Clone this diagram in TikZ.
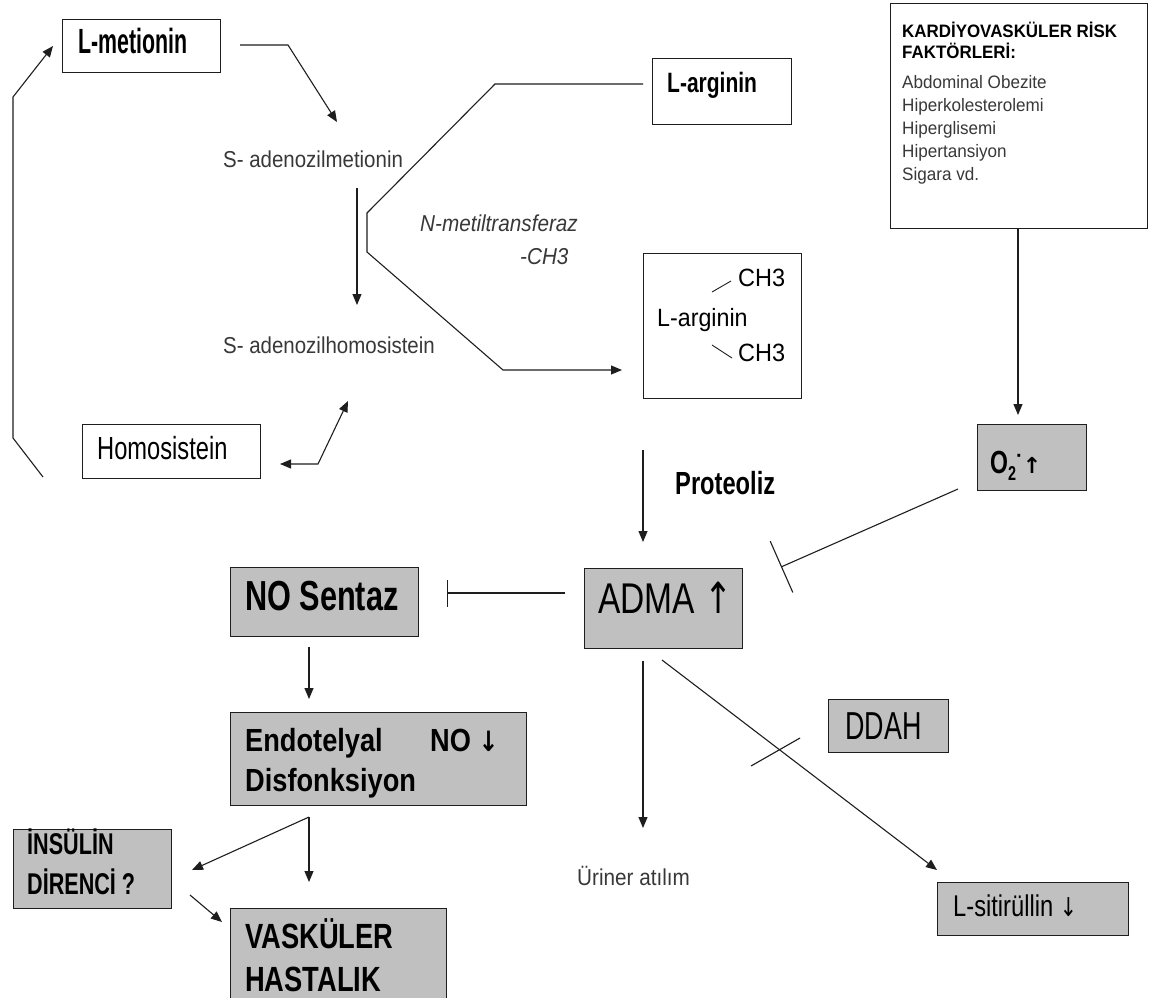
\documentclass[tikz,border=0pt]{standalone}
\usepackage{fontspec}
\usepackage{graphicx}
\setmainfont{Liberation Sans}
\newfontfamily\arrowfont{DejaVu Sans}
\usetikzlibrary{arrows.meta,calc}
\definecolor{boxgray}{RGB}{192,192,192}
\definecolor{inkline}{RGB}{30,30,30}
\newcommand{\fs}[1]{\fontsize{#1}{#1}\selectfont}
\newcommand{\sq}[2]{\scalebox{#1}[1]{#2}}

\begin{document}
\begin{tikzpicture}[x=1pt,y=-1pt,
  conn/.style={draw=inkline, line width=1.1pt},
  arr/.style={conn, -{Triangle[length=11pt,width=9pt]}},
  biarr/.style={conn, {Triangle[length=11pt,width=9pt]}-{Triangle[length=11pt,width=9pt]}},
  inh/.style={conn, -{Bar[width=#1]}},
  bx/.style={draw=inkline, line width=1pt, inner sep=0pt, anchor=north west},
  gbx/.style={bx, fill=boxgray},
  lbl/.style={inner sep=0pt, anchor=base west, text=black},
  thin/.style={lbl, text=black!78}]

\useasboundingbox (0,0) rectangle (1149,997);
\fill[white] (0,0) rectangle (1149,997);

% ---------- boxes ----------
\node[bx,  minimum width=158, minimum height=53]  (lmet) at (62,19)   {};
\node[bx,  minimum width=139, minimum height=66]  (larg) at (652,58)  {};
\node[bx,  minimum width=158, minimum height=145] (dmarg) at (643,253) {};
\node[bx,  minimum width=178, minimum height=54]  (homo) at (82,424)  {};
\node[bx,  minimum width=257, minimum height=225] (risk) at (890,3)   {};
\node[gbx, minimum width=109, minimum height=66]  (o2)   at (977,424) {};
\node[gbx, minimum width=158, minimum height=80]  (adma) at (584,568) {};
\node[gbx, minimum width=188, minimum height=69]  (nos)  at (230,567) {};
\node[gbx, minimum width=296, minimum height=93]  (endo) at (230,712) {};
\node[gbx, minimum width=120, minimum height=53]  (ddah) at (828,699) {};
\node[gbx, minimum width=158, minimum height=79]  (ins)  at (13,829)  {};
\node[gbx, minimum width=216, minimum height=110] (vask) at (230,908) {};
\node[gbx, minimum width=191, minimum height=53]  (lsit) at (937,882) {};

% ---------- labels ----------
\node[lbl, font=\fs{35}\bfseries] (t-lmet) at (78,53) {\sq{0.61}{L-metionin}};
\node[lbl, font=\fs{28}\bfseries] (t-larg) at (667,92) {\sq{0.75}{L-arginin}};
\node[thin, font=\fs{23}] (t-sam) at (223,167.5) {\sq{0.89}{S- adenozilmetionin}};
\node[thin, font=\fs{23}] (t-sah) at (223,353.5) {\sq{0.89}{S- adenozilhomosistein}};
\node[thin, font=\fs{23}\itshape] (t-nmt) at (420,231.5) {\sq{0.9}{N-metiltransferaz}};
\node[thin, font=\fs{23}\itshape] (t-ch3m) at (520,264.5) {\sq{0.9}{-CH3}};
\node[lbl, font=\fs{25}] (t-ch3a) at (738,286) {\sq{0.94}{CH3}};
\node[lbl, font=\fs{25}] (t-darg) at (657,326) {\sq{0.93}{L-arginin}};
\node[lbl, font=\fs{25}] (t-ch3b) at (738,361) {\sq{0.94}{CH3}};
\node[lbl, font=\fs{32}] (t-homo) at (97,459.5) {\sq{0.74}{Homosistein}};

\node[lbl, font=\fs{18}\bfseries] (t-r1) at (902,37.5) {\sq{0.94}{KARDİYOVASKÜLER RİSK}};
\node[lbl, font=\fs{18}\bfseries] (t-r2) at (902,58.5) {\sq{0.94}{FAKTÖRLERİ:}};
\node[thin, font=\fs{18}] (t-r3) at (902,88)  {\sq{0.95}{Abdominal Obezite}};
\node[thin, font=\fs{18}] (t-r4) at (902,111) {\sq{0.95}{Hiperkolesterolemi}};
\node[thin, font=\fs{18}] (t-r5) at (902,134) {\sq{0.95}{Hiperglisemi}};
\node[thin, font=\fs{18}] (t-r6) at (902,157) {\sq{0.95}{Hipertansiyon}};
\node[thin, font=\fs{18}] (t-r7) at (902,180) {\sq{0.95}{Sigara vd.}};

\node[lbl, font=\fs{32}\bfseries] (t-o2) at (990,473.5)
  {\sq{0.72}{O}\raisebox{-7pt}{\fs{20}\sq{0.72}{2}}\raisebox{11pt}{\fs{20}·}{\arrowfont\fs{22}\bfseries ↑}};
\node[lbl, font=\fs{32}\bfseries] (t-prot) at (675,494.5) {\sq{0.74}{Proteoliz}};
\node[lbl, font=\fs{43}] (t-adma) at (598,613.5) {\sq{0.78}{ADMA {\arrowfont ↑}}};
\node[lbl, font=\fs{42}\bfseries] (t-nos) at (245,610) {\sq{0.73}{NO Sentaz}};
\node[lbl, font=\fs{32}\bfseries] (t-endo1) at (245,751.5) {\sq{0.85}{Endotelyal}};
\node[lbl, font=\fs{32}\bfseries] (t-endo2) at (430,751.5) {\sq{0.85}{NO {\arrowfont\fs{28}↓}}};
\node[lbl, font=\fs{32}\bfseries] (t-endo3) at (245,791.5) {\sq{0.85}{Disfonksiyon}};
\node[lbl, font=\fs{30}\bfseries] (t-ins1) at (27,854) {\sq{0.72}{İNSÜLİN}};
\node[lbl, font=\fs{30}\bfseries] (t-ins2) at (27,894) {\sq{0.72}{DİRENCİ ?}};
\node[lbl, font=\fs{35}\bfseries] (t-vask1) at (245,948) {\sq{0.78}{VASKÜLER}};
\node[lbl, font=\fs{35}\bfseries] (t-vask2) at (245,991) {\sq{0.78}{HASTALIK}};
\node[lbl, font=\fs{39}] (t-ddah) at (845,739) {\sq{0.69}{DDAH}};
\node[thin, font=\fs{23}] (t-uri) at (577,885.5) {\sq{0.9}{Üriner atılım}};
\node[lbl, font=\fs{30}] (t-lsit) at (953,916) {\sq{0.79}{L-sitirüllin {\arrowfont\fs{26}↓}}};

% ---------- connector points ----------
\coordinate (lm-out) at (240,45);
\coordinate (lm-bend) at (288,45);
\coordinate (sam-in) at (337,122);
\coordinate (sam-out) at (357,188);
\coordinate (sah-in) at (357,305);
\coordinate (la-out) at (643,84);
\coordinate (la-b1) at (495,84);
\coordinate (la-b2) at (367,213);
\coordinate (la-b3) at (367,252);
\coordinate (la-b4) at (503,370);
\coordinate (dm-in) at (622,370);
\coordinate (ho-in) at (280,464);
\coordinate (ho-bend) at (318,464);
\coordinate (sah-out) at (348,401);
\coordinate (lp-start) at (43,477);
\coordinate (lp-b1) at (13,438);
\coordinate (lp-b2) at (13,97);
\coordinate (lm-in) at (53,46);
\coordinate (o2-in) at (1018,415);
\coordinate (o2-out) at (958,489);
\coordinate (adma-bar) at (781,567);
\coordinate (pr-top) at (643,450);
\coordinate (pr-tip) at (643,542);
\coordinate (ad-left) at (565,593);
\coordinate (nos-bar) at (447,593);
\coordinate (nos-out) at (309,647);
\coordinate (endo-in) at (309,699);
\coordinate (endo-out) at (309,817);
\coordinate (vask-in) at (309,882);
\coordinate (ins-in) at (192,870);
\coordinate (ins-out) at (190,895);
\coordinate (vask-in2) at (222,922);
\coordinate (ad-down) at (643,661);
\coordinate (uri-in) at (643,828);
\coordinate (ad-diag) at (662,660);
\coordinate (ls-in) at (937,870);
\coordinate (dd-a) at (751,766);
\coordinate (dd-b) at (800,738);

% ---------- connectors ----------
\draw[arr] (lm-out) -- (lm-bend) -- (sam-in);
\draw[arr] (sam-out) -- (sah-in);
\draw[arr] (la-out) -- (la-b1) -- (la-b2) -- (la-b3) -- (la-b4) -- (dm-in);
\draw[biarr] (ho-in) -- (ho-bend) -- (sah-out);
\draw[arr] (lp-start) -- (lp-b1) -- (lp-b2) -- (lm-in);
\draw[arr] (risk.south -| o2-in) -- (o2-in);
\draw[inh=56pt] (o2-out) -- (adma-bar);
\draw[arr] (pr-top) -- (pr-tip);
\draw[inh=27pt] (ad-left) -- (nos-bar);
\draw[arr] (nos-out) -- (endo-in);
\draw[arr] (endo-out) -- (vask-in);
\draw[arr] (endo-out) -- (ins-in);
\draw[arr] (ins-out) -- (vask-in2);
\draw[arr] (ad-down) -- (uri-in);
\draw[arr] (ad-diag) -- (ls-in);
\draw[conn] (dd-a) -- (dd-b);

% methyl bonds
\draw[conn, line width=0.9pt] (712,292) -- (731,281);
\draw[conn, line width=0.9pt] (712,345) -- (732,358);
\end{tikzpicture}
\end{document}
